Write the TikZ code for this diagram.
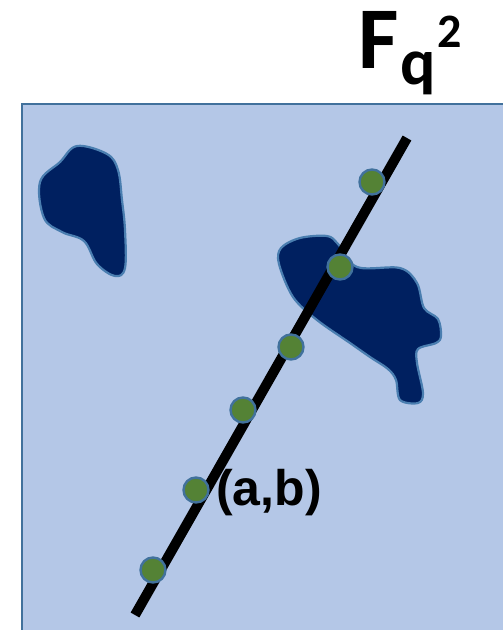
\documentclass[tikz,border=0pt]{standalone}
\usepackage{fontspec}
\setmainfont{Liberation Sans}
\newfontfamily\titlefont{Carlito}
\usepackage{xcolor}
\definecolor{planefill}{HTML}{B4C7E7}
\definecolor{planeedge}{HTML}{41719C}
\definecolor{blobfill}{HTML}{002060}
\definecolor{blobedge}{HTML}{4A7EB0}
\definecolor{dotfill}{HTML}{548235}
\usetikzlibrary{positioning}

\begin{document}
\begin{tikzpicture}[
  x=1pt, y=-1pt,
  plane/.style={draw=planeedge, fill=planefill, line width=2pt},
  blob/.style={draw=blobedge, fill=blobfill, line width=2.2pt},
  pt/.style={circle, inner sep=0pt, minimum size=25pt,
    draw=planeedge, fill=dotfill, line width=2.4pt},
  lineq/.style={line width=10pt, color=black, line cap=butt},
  lbl/.style={font=\bfseries\fontsize{50}{50}\selectfont, inner sep=0pt, anchor=base west}
]
\useasboundingbox (0,0) rectangle (503,630);
\draw[plane] (22,104) rectangle (520,650);

% the two dark regions
\draw[blob] plot[smooth cycle, tension=0.6] coordinates {
  (77,146) (107,154) (118,170) (122,200) (125,230) (125,268)
  (115,276) (97,264) (84,241) (62,232) (44,218) (40,182) (60,162)};
\draw[blob] plot[smooth cycle, tension=0.55] coordinates {
  (281,248) (300,238) (327,236) (338,244) (357,267) (400,268)
  (417,283) (424,308) (438,319) (441,336) (436,343) (418,349)
  (417,363) (423,393) (418,403) (400,400) (396,380) (388,369)
  (370,357) (350,343) (317,320) (293,297) (279,264)};

% the line and its points
\coordinate (lineBot) at (135,615);
\coordinate (lineTop) at (407,138);
\draw[lineq] (lineBot) -- (lineTop);

\node[pt] (p1) at (372,182) {};
\node[pt] (p2) at (340,267) {};
\node[pt] (p3) at (291,347) {};
\node[pt] (p4) at (243,410) {};
\node[pt] (p5) at (196,490) {};
\node[pt] (p6) at (153,570) {};

\node[lbl] (ab) at (216,505) {(a,b)};
\node[lbl, font=\titlefont\bfseries\fontsize{88}{88}\selectfont] (field) at (358,68)
  {F\kern2pt\raisebox{-16pt}{\fontsize{66}{66}\selectfont q}\kern1pt\raisebox{21pt}{\fontsize{48}{48}\selectfont 2}};
\end{tikzpicture}
\end{document}
